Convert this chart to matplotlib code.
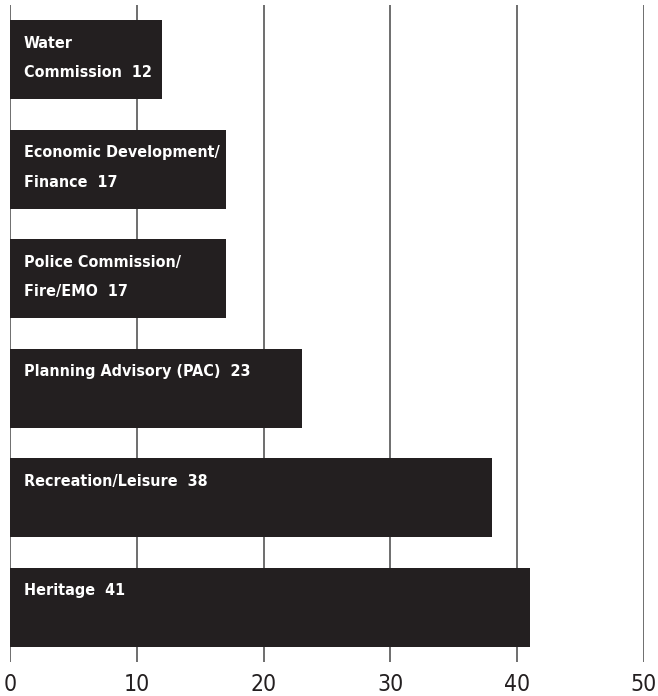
import matplotlib

matplotlib.use("Agg")
import matplotlib.pyplot as plt  # noqa: E402

# committee interest counts, top to bottom
labels = [
    "Water\nCommission",
    "Economic Development/\nFinance",
    "Police Commission/\nFire/EMO",
    "Planning Advisory (PAC)",
    "Recreation/Leisure",
    "Heritage",
]
values = [12, 17, 17, 23, 38, 41]
xticks = [0, 10, 20, 30, 40, 50]

FONT = ["DejaVu Sans"]


def main() -> None:
    fig = plt.figure(figsize=(6.58, 6.96), dpi=100)
    ax = fig.add_axes([10 / 658, 34 / 696, 634 / 658, 657 / 696])
    rows = list(range(len(values)))
    ax.barh(rows, values, height=0.72, color="#231f20", zorder=2)
    for i, (lab, v) in enumerate(zip(labels, values)):
        ax.annotate(f"{lab}  {v}", xy=(0, i - 0.36), xytext=(10, -11),
                    textcoords="offset points", ha="left", va="top",
                    color="white", fontsize=11.5, fontweight="bold",
                    fontstretch="condensed", family=FONT,
                    linespacing=2.2, zorder=3)
    ax.set_xlim(0, 50)
    ax.set_ylim(len(values) - 0.5, -0.5)
    ax.set_xticks(xticks)
    ax.set_xticklabels([str(t) for t in xticks], family=FONT, fontsize=16.5,
                       fontstretch="condensed", color="#231f20")
    ax.set_yticks([])
    ax.tick_params(axis="x", length=0, pad=8)
    ax.grid(axis="x", color="#555555", linewidth=1.2, zorder=1)
    for s in ax.spines.values():
        s.set_visible(False)
    fig.savefig("out.png", dpi=100)


if __name__ == "__main__":
    main()
